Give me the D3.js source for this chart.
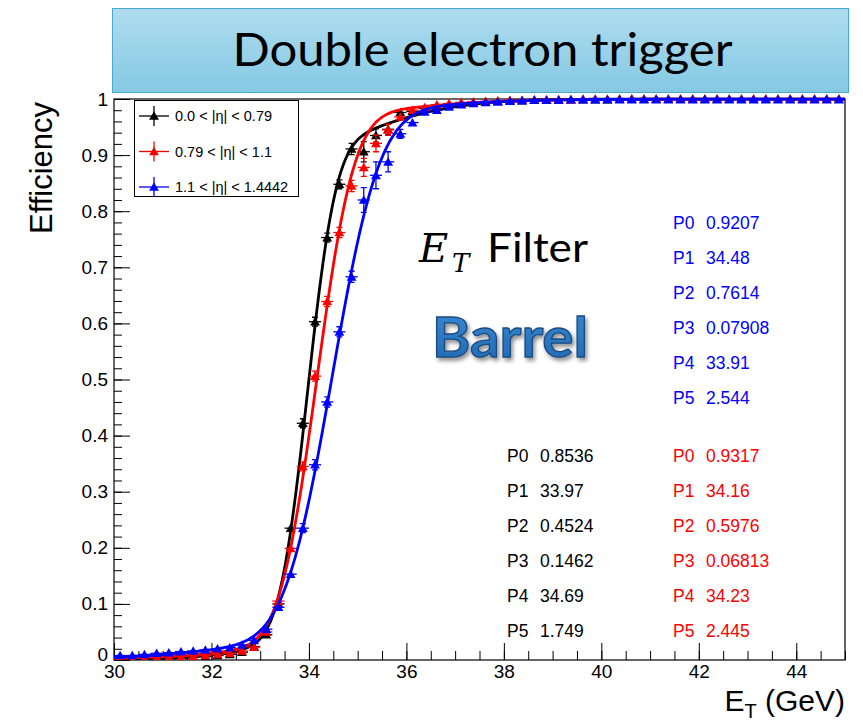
<!DOCTYPE html>
<html>
<head>
<meta charset="utf-8">
<script src="https://cdn.jsdelivr.net/npm/d3@7"></script>
<style>
  html, body { margin: 0; padding: 0; background: #ffffff; }
  svg { display: block; }
</style>
</head>
<body>
<svg id="chart" width="863" height="722"></svg>
<script>
// Bin centres in E_T (GeV): 0.25 GeV bins from 30 to 45
const binCenters = d3.range(60).map(i => 30.125 + 0.25 * i);

// Measured trigger efficiency per bin, one array per |eta| region
const effBlack = [0.002, 0.001, 0.003, 0.002, 0.004, 0.003, 0.005, 0.006, 0.008, 0.010,
  0.014, 0.024, 0.045, 0.100, 0.235, 0.422, 0.603, 0.753, 0.848, 0.911,
  0.906, 0.935, 0.946, 0.976, 0.978, 0.983, 0.987, 0.990, 0.992, 0.994,
  0.995, 0.996, 0.997, 0.997, 0.998, 0.998, 0.999, 0.999, 0.999, 0.999,
  0.999, 1.000, 1.000, 1.000, 1.000, 1.000, 1.000, 1.000, 1.000, 1.000,
  1.000, 1.000, 1.000, 1.000, 1.000, 1.000, 1.000, 1.000, 1.000, 1.000];
const effRed = [0.002, 0.003, 0.004, 0.004, 0.005, 0.006, 0.007, 0.008, 0.010, 0.012,
  0.016, 0.023, 0.050, 0.105, 0.199, 0.345, 0.506, 0.639, 0.762, 0.845,
  0.878, 0.921, 0.945, 0.968, 0.980, 0.985, 0.990, 0.992, 0.994, 0.995,
  0.996, 0.997, 0.998, 0.998, 0.999, 0.999, 0.999, 0.999, 1.000, 1.000,
  1.000, 1.000, 1.000, 1.000, 1.000, 1.000, 1.000, 1.000, 1.000, 1.000,
  1.000, 1.000, 1.000, 1.000, 1.000, 1.000, 1.000, 1.000, 1.000, 1.000];
const effBlue = [0.008, 0.008, 0.010, 0.012, 0.013, 0.015, 0.016, 0.018, 0.020, 0.022,
  0.027, 0.035, 0.055, 0.094, 0.153, 0.235, 0.348, 0.460, 0.585, 0.683,
  0.820, 0.864, 0.888, 0.938, 0.958, 0.977, 0.980, 0.986, 0.990, 0.992,
  0.994, 0.995, 0.996, 0.997, 0.998, 0.998, 0.998, 0.999, 0.999, 0.999,
  0.999, 0.999, 0.999, 0.999, 0.999, 0.999, 0.999, 0.999, 0.999, 0.999,
  0.999, 0.999, 0.999, 0.999, 0.999, 0.999, 0.999, 0.999, 0.999, 0.999];

// Statistical uncertainty per bin (symmetric, efficiency units)
const errBlack = [0.002, 0.001, 0.002, 0.002, 0.002, 0.002, 0.002, 0.002, 0.003, 0.003,
  0.003, 0.004, 0.005, 0.006, 0.007, 0.008, 0.008, 0.008, 0.008, 0.010,
  0.018, 0.012, 0.010, 0.006, 0.006, 0.005, 0.004, 0.004, 0.003, 0.003,
  0.002, 0.002, 0.002, 0.002, 0.001, 0.001, 0.001, 0.001, 0.001, 0.001,
  0.001, 0.001, 0.001, 0.001, 0.001, 0.001, 0.001, 0.001, 0.001, 0.001,
  0.001, 0.001, 0.001, 0.001, 0.001, 0.001, 0.001, 0.001, 0.001, 0.001];
const errRed = [0.002, 0.002, 0.002, 0.002, 0.002, 0.002, 0.002, 0.002, 0.003, 0.003,
  0.003, 0.004, 0.005, 0.006, 0.007, 0.008, 0.009, 0.009, 0.009, 0.010,
  0.016, 0.015, 0.010, 0.006, 0.005, 0.004, 0.004, 0.003, 0.003, 0.003,
  0.002, 0.002, 0.002, 0.002, 0.001, 0.001, 0.001, 0.001, 0.001, 0.001,
  0.001, 0.001, 0.001, 0.001, 0.001, 0.001, 0.001, 0.001, 0.001, 0.001,
  0.001, 0.001, 0.001, 0.001, 0.001, 0.001, 0.001, 0.001, 0.001, 0.001];
const errBlue = [0.002, 0.002, 0.002, 0.002, 0.002, 0.002, 0.002, 0.002, 0.003, 0.003,
  0.003, 0.004, 0.005, 0.006, 0.007, 0.008, 0.009, 0.009, 0.009, 0.010,
  0.022, 0.024, 0.018, 0.008, 0.006, 0.005, 0.004, 0.003, 0.003, 0.003,
  0.002, 0.002, 0.002, 0.002, 0.001, 0.001, 0.001, 0.001, 0.001, 0.001,
  0.001, 0.001, 0.001, 0.001, 0.001, 0.001, 0.001, 0.001, 0.001, 0.001,
  0.001, 0.001, 0.001, 0.001, 0.001, 0.001, 0.001, 0.001, 0.001, 0.001];

// Fit parameters P0..P5 per region (double error-function turn-on)
const fitBlack = [0.8536, 33.97, 0.4524, 0.1462, 34.69, 1.749];
const fitRed   = [0.9317, 34.16, 0.5976, 0.06813, 34.23, 2.445];
const fitBlue  = [0.9207, 34.48, 0.7614, 0.07908, 33.91, 2.544];

const legendLabels = ["0.0 < |\u03b7| < 0.79", "0.79 < |\u03b7| < 1.1", "1.1 < |\u03b7| < 1.4442"];
const seriesColors = ["#000000", "#ff0000", "#0000ff"];
const paramNames = ["P0", "P1", "P2", "P3", "P4", "P5"];
const xTickValues = [30, 32, 34, 36, 38, 40, 42, 44];
const yTickValues = d3.range(0, 11).map(i => i / 10);

// ---------------------------------------------------------------
const svg = d3.select("#chart");
const frame = { left: 114, right: 845, top: 99, bottom: 660 };

const x = d3.scaleLinear().domain([30, 45]).range([frame.left, frame.right]);
const y = d3.scaleLinear().domain([0, 1]).range([frame.bottom, frame.top]);

// error function (Abramowitz & Stegun 7.1.26)
function erf(z) {
  const s = z < 0 ? -1 : 1; z = Math.abs(z);
  const t = 1 / (1 + 0.3275911 * z);
  const p = t * (0.254829592 + t * (-0.284496736 + t * (1.421413741 + t * (-1.453152027 + t * 1.061405429))));
  return s * (1 - p * Math.exp(-z * z));
}
const turnOn = (v, mu, sig) => 0.5 * (1 + erf((v - mu) / (Math.SQRT2 * sig)));
const fitFn = p => v => p[0] * turnOn(v, p[1], p[2]) + p[3] * turnOn(v, p[4], p[5]);

// ---- header box
const defs = svg.append("defs");
const grad = defs.append("linearGradient").attr("id", "hdr").attr("x1", 0).attr("y1", 0).attr("x2", 0).attr("y2", 1);
grad.append("stop").attr("offset", "0%").attr("stop-color", "#afdcef");
grad.append("stop").attr("offset", "100%").attr("stop-color", "#84c9e3");
svg.append("rect").attr("x", 112.5).attr("y", 8.5).attr("width", 736).attr("height", 84)
  .attr("fill", "url(#hdr)").attr("stroke", "#46abcf").attr("stroke-width", 1);
svg.append("text").attr("x", 482.5).attr("y", 66).attr("text-anchor", "middle")
  .attr("textLength", 500).attr("lengthAdjust", "spacingAndGlyphs")
  .style("font-family", "Lato, 'Open Sans', sans-serif").style("font-size", "46px").attr("fill", "#000")
  .text("Double electron trigger");

// ---- axes
const plot = svg.append("g");
const fontAxis = "'Liberation Sans', Arial, sans-serif";

const yMajor = d3.axisLeft(y).tickValues(yTickValues).tickSize(-16).tickPadding(6)
  .tickFormat(d => d === 0 ? "0" : d === 1 ? "1" : d3.format(".1f")(d));
const yMinor = d3.axisLeft(y).tickValues(d3.range(0, 51).map(i => i / 50)).tickSize(-8).tickFormat("");
const xMajor = d3.axisBottom(x).tickValues(xTickValues).tickSize(-17).tickPadding(5).tickFormat(d3.format("d"));
const xMinor = d3.axisBottom(x).tickValues(d3.range(0, 31).map(i => 30 + i * 0.5)).tickSize(-9).tickFormat("");

function styleAxis(g) {
  g.select(".domain").remove();
  g.selectAll("line").attr("stroke", "#000").attr("stroke-width", 1);
  g.selectAll("text").style("font-family", fontAxis).style("font-size", "19px").attr("fill", "#000");
}
plot.append("g").attr("transform", `translate(${frame.left},0)`).call(yMinor).call(styleAxis);
const yAx = plot.append("g").attr("transform", `translate(${frame.left},0)`).call(yMajor).call(styleAxis);
// lift the "0" label clear of the first x label
yAx.selectAll(".tick").filter(d => d === 0).select("text").attr("dy", "0.05em");
plot.append("g").attr("transform", `translate(0,${frame.bottom})`).call(xMinor).call(styleAxis);
plot.append("g").attr("transform", `translate(0,${frame.bottom})`).call(xMajor).call(styleAxis);

// frame
plot.append("rect").attr("x", frame.left).attr("y", frame.top)
  .attr("width", frame.right - frame.left).attr("height", frame.bottom - frame.top)
  .attr("fill", "none").attr("stroke", "#000").attr("stroke-width", 1.2);

// axis titles
svg.append("text").attr("transform", "translate(52,168) rotate(-90)").attr("text-anchor", "middle")
  .style("font-family", fontAxis).style("font-size", "31px").text("Efficiency");
const xt = svg.append("text").attr("x", 845).attr("y", 711).attr("text-anchor", "end")
  .style("font-family", fontAxis).style("font-size", "30px");
xt.append("tspan").text("E");
xt.append("tspan").attr("dy", 7).style("font-size", "20px").text("T");
xt.append("tspan").attr("dy", -7).text(" (GeV)");

// ---- data series
const series = [
  { eff: effBlack, err: errBlack, fit: fitBlack, color: seriesColors[0] },
  { eff: effRed, err: errRed, fit: fitRed, color: seriesColors[1] },
  { eff: effBlue, err: errBlue, fit: fitBlue, color: seriesColors[2] }
];
const tri = d3.symbol().type(d3.symbolTriangle).size(42);
const fitX = d3.range(0, 601).map(i => 30 + i * 15 / 600);
const line = d3.line().x(d => x(d[0])).y(d => y(d[1]));
defs.append("clipPath").attr("id", "frameClip").append("rect")
  .attr("x", frame.left).attr("y", frame.top - 6).attr("width", frame.right - frame.left).attr("height", frame.bottom - frame.top + 6);

const dataLayer = svg.append("g").attr("clip-path", "url(#frameClip)");
series.forEach(s => {
  const g = dataLayer.append("g");
  const pts = binCenters.map((c, i) => ({ c, e: s.eff[i], er: s.err[i] }));
  // horizontal bin-width bars
  g.selectAll("line.h").data(pts).join("line")
    .attr("x1", d => x(d.c - 0.125)).attr("x2", d => x(d.c + 0.125))
    .attr("y1", d => y(d.e)).attr("y2", d => y(d.e))
    .attr("stroke", s.color).attr("stroke-width", 1.3);
  // vertical error bars with end caps
  g.selectAll("line.v").data(pts).join("line")
    .attr("x1", d => x(d.c)).attr("x2", d => x(d.c))
    .attr("y1", d => y(d.e - d.er)).attr("y2", d => y(d.e + d.er))
    .attr("stroke", s.color).attr("stroke-width", 1.3);
  g.selectAll("path.cap").data(pts.filter(d => d.er >= 0.008)).join("path")
    .attr("d", d => `M${x(d.c) - 3},${y(d.e - d.er)}h6M${x(d.c) - 3},${y(d.e + d.er)}h6`)
    .attr("stroke", s.color).attr("stroke-width", 1.3);
  // fit curve
  const f = fitFn(s.fit);
  g.append("path").datum(fitX.map(v => [v, f(v)])).attr("d", line)
    .attr("fill", "none").attr("stroke", s.color).attr("stroke-width", 2.8);
  // markers
  g.selectAll("path.m").data(pts).join("path")
    .attr("transform", d => `translate(${x(d.c)},${y(d.e) + 1})`)
    .attr("d", tri).attr("fill", s.color);
});

// ---- legend
const lg = svg.append("g");
lg.append("rect").attr("x", 134.5).attr("y", 100.5).attr("width", 164).attr("height", 96)
  .attr("fill", "#fff").attr("stroke", "#000").attr("stroke-width", 1);
const legendRows = [116, 151.5, 187];
legendLabels.forEach((lab, i) => {
  const c = seriesColors[i], yy = legendRows[i];
  lg.append("line").attr("x1", 139).attr("x2", 169).attr("y1", yy).attr("y2", yy).attr("stroke", c).attr("stroke-width", 1.3);
  lg.append("line").attr("x1", 154).attr("x2", 154).attr("y1", yy - 10).attr("y2", yy + 10).attr("stroke", c).attr("stroke-width", 1.3);
  lg.append("path").attr("transform", `translate(154,${yy + 1})`).attr("d", tri).attr("fill", c);
  lg.append("text").attr("x", 175).attr("y", yy + 5)
    .style("font-family", fontAxis).style("font-size", "14.5px").text(lab);
});

// ---- annotations
const ann = svg.append("g");
const serif = "'DejaVu Serif', 'Liberation Serif', serif";
ann.append("text").attr("x", 419).attr("y", 262)
  .style("font-family", serif).style("font-style", "italic").style("font-size", "40px").text("E");
ann.append("text").attr("x", 452).attr("y", 272)
  .style("font-family", serif).style("font-style", "italic").style("font-size", "26px").text("T");
ann.append("text").attr("x", 487).attr("y", 262).attr("textLength", 101).attr("lengthAdjust", "spacingAndGlyphs")
  .style("font-family", "Lato, 'Open Sans', sans-serif").style("font-size", "41px").text("Filter");

const shadow = defs.append("filter").attr("id", "soft").attr("x", "-10%").attr("y", "-20%").attr("width", "130%").attr("height", "150%");
shadow.append("feGaussianBlur").attr("in", "SourceAlpha").attr("stdDeviation", 2).attr("result", "b");
shadow.append("feOffset").attr("in", "b").attr("dx", 2).attr("dy", 3).attr("result", "o");
shadow.append("feComponentTransfer").attr("in", "o").attr("result", "o2")
  .append("feFuncA").attr("type", "linear").attr("slope", 0.45);
const fm = shadow.append("feMerge");
fm.append("feMergeNode").attr("in", "o2");
fm.append("feMergeNode").attr("in", "SourceGraphic");
const bgrad = defs.append("linearGradient").attr("id", "barrelFill").attr("x1", 0).attr("y1", 0).attr("x2", 0).attr("y2", 1);
bgrad.append("stop").attr("offset", "0%").attr("stop-color", "#3a8ad4");
bgrad.append("stop").attr("offset", "100%").attr("stop-color", "#1e68b0");
ann.append("text").attr("x", 510).attr("y", 357).attr("text-anchor", "middle")
  .attr("textLength", 156).attr("lengthAdjust", "spacingAndGlyphs")
  .style("font-family", "Lato, 'Open Sans', sans-serif").style("font-weight", "bold").style("font-size", "55px")
  .attr("fill", "url(#barrelFill)").attr("stroke", "#1b4a80").attr("stroke-width", 1.3)
  .attr("filter", "url(#soft)").text("Barrel");

// fit-parameter boxes
function paramColumn(vals, color, x0, y0) {
  const g = ann.append("g").style("font-family", fontAxis).style("font-size", "17.5px").attr("fill", color);
  vals.forEach((v, i) => {
    g.append("text").attr("x", x0).attr("y", y0 + i * 35).text(paramNames[i]);
    g.append("text").attr("x", x0 + 33).attr("y", y0 + i * 35).text(String(v));
  });
}
paramColumn(fitBlue, "#0000ff", 673, 228.5);
paramColumn(fitBlack, "#000000", 507, 461.5);
paramColumn(fitRed, "#ff0000", 673, 461.5);
</script>
</body>
</html>
